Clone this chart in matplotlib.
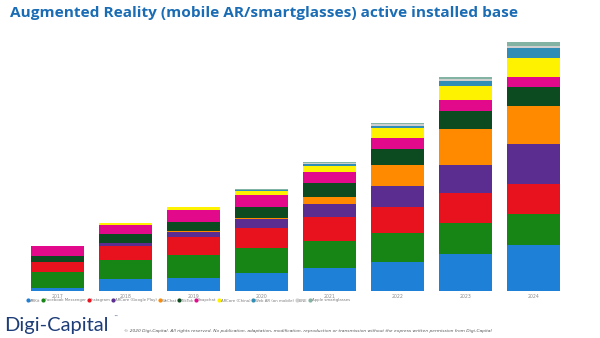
import matplotlib
matplotlib.use("Agg")
import matplotlib.pyplot as plt
from matplotlib.lines import Line2D
import numpy as np

years = ["2017", "2018", "2019", "2020", "2021", "2022", "2023", "2024"]
series_names = ["ARKit", "Facebook Messenger", "Instagram", "ARCore (Google Play)",
                "WeChat", "TikTok", "Snapchat", "ARCore (China)", "Web AR (on mobile)",
                "LINE", "Apple smartglasses"]
arkit = [30, 120, 133, 177, 227, 287, 370, 460]
fb_messenger = [157, 190, 227, 250, 273, 296, 313, 310]
instagram = [103, 143, 183, 206, 237, 260, 294, 300]
arcore_gp = [5, 24, 50, 84, 133, 210, 283, 400]
wechat = [0, 0, 5, 16, 67, 207, 360, 380]
tiktok = [56, 93, 93, 104, 140, 157, 183, 187]
snapchat = [100, 90, 123, 123, 116, 110, 107, 100]
arcore_china = [3, 17, 25, 43, 60, 100, 140, 190]
web_ar = [0, 0, 0, 5, 13, 26, 47, 104]
line_app = [0, 0, 3, 6, 10, 12, 20, 23]
apple_glasses = [0, 0, 2, 6, 10, 12, 20, 33]

series = [arkit, fb_messenger, instagram, arcore_gp, wechat, tiktok, snapchat,
          arcore_china, web_ar, line_app, apple_glasses]
colors = ["#1e80d6", "#178516", "#e8121f", "#5b2d91", "#ff8a00", "#0c4a1f",
          "#e2098b", "#fff200", "#2f8db6", "#cfcfcf", "#82b3a3"]

W, H = 600, 338
fig = plt.figure(figsize=(6, 3.38), dpi=100)
fig.patch.set_facecolor("white")

base_px = 291
top_px = 31
left_px = 23.5
right_px = 567.5
ax = fig.add_axes([left_px / W, (H - base_px) / H, (right_px - left_px) / W, (base_px - top_px) / H])
x = np.arange(len(years))
bottom = np.zeros(len(years))
for vals, c, name in zip(series, colors, series_names):
    ax.bar(x, vals, bottom=bottom, width=0.78, color=c, edgecolor="none", label=name)
    bottom += np.array(vals)
ax.set_xlim(-0.5, len(years) - 0.5)
ax.set_ylim(0, 2600)
ax.set_yticks([])
ax.set_xticks(x)
ax.set_xticklabels(years, fontsize=3.3, color="#8a8a8a")
ax.tick_params(axis="x", length=0, pad=2)
for s in ax.spines.values():
    s.set_visible(False)

fig.text(10 / W, 1 - 13 / H, "Augmented Reality (mobile AR/smartglasses) active installed base",
         fontsize=11.1, fontweight="bold", color="#1a6cb4", family="Open Sans",
         va="center", ha="left")

handles = [Line2D([0], [0], marker="o", color="none", markerfacecolor=c, markeredgecolor=c,
                  markersize=2.0) for c in colors]
fig.legend(handles, series_names, loc="center left", bbox_to_anchor=(25 / W, 1 - 300.5 / H),
           ncol=11, fontsize=2.75, frameon=False, handletextpad=0.05, columnspacing=0.35,
           handlelength=0.8, borderpad=0, labelcolor="#7a7a7a")

fig.text(4 / W, 1 - 325 / H, "Digi-Capital", fontsize=14.5, color="#1d3d78",
         family="Lato", va="center", ha="left")
fig.text(113 / W, 1 - 317 / H, "™", fontsize=3, color="#1d3d78", va="center", ha="left")
fig.text(124 / W, 1 - 331 / H,
         "© 2020 Digi-Capital. All rights reserved. No publication, adaptation, modification, reproduction "
         "or transmission without the express written permission from Digi-Capital",
         fontsize=3.2, style="italic", color="#555555", va="center", ha="left")

fig.savefig("out.png", dpi=100, facecolor="white")
